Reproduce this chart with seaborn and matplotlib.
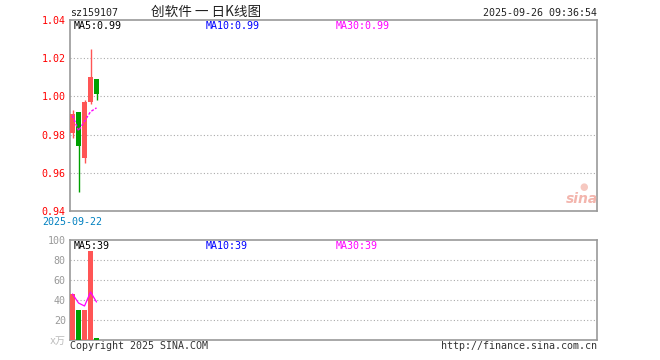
import matplotlib
matplotlib.use("Agg")
import matplotlib.pyplot as plt
import numpy as np
import seaborn as sns

# daily K-line data, 2025-09-22 .. 2025-09-26
dates = ["2025-09-22", "2025-09-23", "2025-09-24", "2025-09-25", "2025-09-26"]
opens = [0.981, 0.992, 0.968, 0.997, 1.009]
closes = [0.991, 0.974, 0.997, 1.010, 1.001]
highs = [0.993, 0.992, 0.998, 1.025, 1.009]
lows = [0.978, 0.950, 0.965, 0.996, 0.998]
ma5 = [0.990, 0.982, 0.987, 0.992, 0.994]

# volume in 万
vols = [46, 30, 30, 89, 2]
vol_ma5 = [46, 37, 34, 48, 38]

price_ticks = [0.94, 0.96, 0.98, 1.00, 1.02, 1.04]
vol_ticks = [0, 20, 40, 60, 80, 100]
vol_tick_labels = ["x万", "20", "40", "60", "80", "100"]

RED = "#ff5555"
GREEN = "#00a000"
GRID = "#aaaaaa"
BORDER = "#999999"

sns.set_theme(style="white")
plt.rcParams["font.family"] = ["DejaVu Sans Mono", "Noto Sans CJK SC"]
plt.rcParams["font.size"] = 7.2
plt.rcParams["xtick.labelsize"] = 7.2
plt.rcParams["ytick.labelsize"] = 7.2

W, H = 660, 360
fig = plt.figure(figsize=(W / 100, H / 100), dpi=100)
ax = fig.add_axes([70 / W, (H - 211) / H, 527 / W, 191 / H])
axv = fig.add_axes([70 / W, (H - 340) / H, 527 / W, 100 / H])

idx = np.arange(len(dates))
colors = [RED if c >= o else GREEN for o, c in zip(opens, closes)]
xlim = (-0.42, -0.42 + 527 / 6)

# candles
ax.vlines(idx, lows, highs, colors=colors, linewidth=1.0, zorder=3)
body_lo = np.minimum(opens, closes)
body_h = np.abs(np.array(closes) - np.array(opens))
ax.bar(idx, body_h, bottom=body_lo, width=0.83, color=colors,
       linewidth=0, zorder=4)
sns.lineplot(x=idx, y=ma5, ax=ax, color="#ff00ff", linewidth=1,
             dashes=False, linestyle=(0, (2, 1.2)), zorder=5)

ax.set_xlim(*xlim)
ax.set_ylim(0.94, 1.04)
ax.set_yticks(price_ticks)
ax.set_yticklabels([f"{t:.2f}" for t in price_ticks], color="#ff0000")
ax.set_xticks([0])
ax.set_xticklabels([dates[0]], color="#0080c0")
ax.tick_params(axis="both", length=0, pad=3, labelsize=7.2)
ax.tick_params(axis="x", pad=4)
for t in price_ticks[1:-1]:
    ax.axhline(t, color=GRID, linewidth=0.8, linestyle=(0, (1, 2)), zorder=1)
ax.set_xlabel("")
ax.set_ylabel("")

# volume
sns.barplot(x=idx, y=vols, hue=dates, palette=dict(zip(dates, colors)),
            native_scale=True, dodge=False, width=0.83, saturation=1,
            linewidth=0, legend=False, ax=axv, zorder=3)
sns.lineplot(x=idx, y=vol_ma5, ax=axv, color="#ff00ff", linewidth=0.9, zorder=5)
axv.set_xlim(*xlim)
axv.set_ylim(0, 100)
axv.set_yticks(vol_ticks)
axv.set_yticklabels(vol_tick_labels)
for lbl, c in zip(axv.get_yticklabels(), ["#bbbbbb"] + ["#999999"] * 5):
    lbl.set_color(c)
axv.set_xticks([])
axv.tick_params(axis="both", length=0, pad=3, labelsize=7.2)
for t in vol_ticks[1:-1]:
    axv.axhline(t, color=GRID, linewidth=0.8, linestyle=(0, (1, 2)), zorder=1)
axv.set_xlabel("")
axv.set_ylabel("")

for a in (ax, axv):
    for s in a.spines.values():
        s.set_color(BORDER)
        s.set_linewidth(1.2)


def px(x, y):
    return x / W, 1 - y / H


# header
fig.text(*px(70, 13), "sz159107", ha="left", va="center", color="#222222")
fig.text(*px(151, 12), "创软件 一 日K线图", ha="left", va="center",
         family=["Noto Sans CJK SC"], fontsize=9.8, color="#222222")
fig.text(*px(597, 13), "2025-09-26 09:36:54", ha="right", va="center", color="#222222")

# MA legends
fig.text(*px(74, 26), f"MA5:{ma5[-1]:.2f}", ha="left", va="center", color="#000000")
fig.text(*px(206, 26), f"MA10:{ma5[-1]:.2f}", ha="left", va="center", color="#0000ff")
fig.text(*px(336, 26), f"MA30:{ma5[-1]:.2f}", ha="left", va="center", color="#ff00ff")
fig.text(*px(74, 246), "MA5:39", ha="left", va="center", color="#000000")
fig.text(*px(206, 246), "MA10:39", ha="left", va="center", color="#0000ff")
fig.text(*px(336, 246), "MA30:39", ha="left", va="center", color="#ff00ff")

# watermark
fig.text(*px(582, 199), "sina", ha="center", va="center", color="#f3b5ad",
         family=["DejaVu Sans"], fontsize=10, fontweight="bold", style="italic")
fig.text(*px(584, 187), "●", ha="center", va="center", color="#f6c8c0",
         family=["DejaVu Sans"], fontsize=7)

# footer
fig.text(*px(70, 346), "Copyright 2025 SINA.COM", ha="left", va="center", color="#333333")
fig.text(*px(597, 346), "http://finance.sina.com.cn", ha="right", va="center", color="#333333")

fig.savefig("out.png", dpi=100, facecolor="white")
